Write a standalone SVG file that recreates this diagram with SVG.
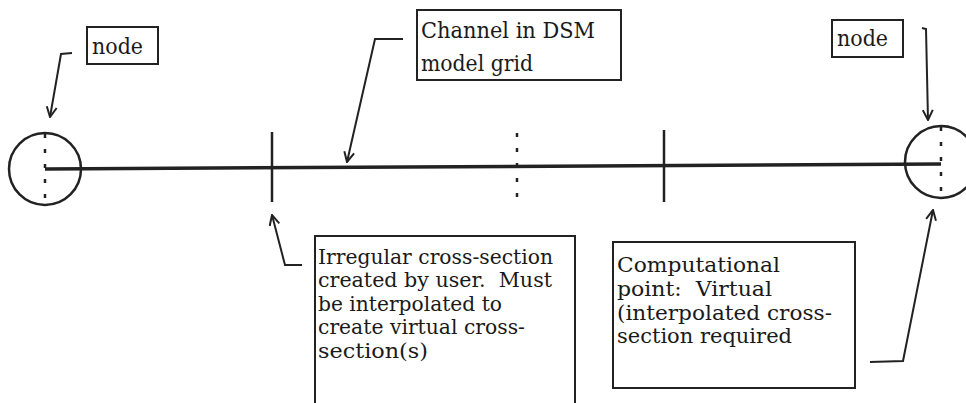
<svg xmlns="http://www.w3.org/2000/svg" width="966" height="403" viewBox="0 0 966 403">
<style>
.box{fill:#fff;stroke:#222;stroke-width:2}
text{fill:#1a1a1a}
.lbl{font-size:21px}
.nd{font-size:23px}
.ch{font-size:23px}
.lead{fill:none;stroke:#222;stroke-width:2;marker-end:url(#ah)}
.circ{fill:none;stroke:#222;stroke-width:2.5}
.dash{stroke:#222;stroke-width:2.5;stroke-dasharray:4 11}
.tick{stroke:#222;stroke-width:2.5}
</style>
<defs>
<marker id="ah" viewBox="0 0 12 12" refX="11" refY="6" markerWidth="12" markerHeight="12" markerUnits="userSpaceOnUse" orient="auto">
<path d="M1,1 L11,6 L1,11" fill="none" stroke="#222" stroke-width="2"/>
</marker>
</defs>
<rect width="966" height="403" fill="#fff"/>

<g id="channel-line">
<line x1="45" y1="169" x2="941" y2="164" stroke="#222" stroke-width="3.5"/>
</g>

<g id="node-left">
<circle class="circ" cx="45" cy="169" r="36"/>
<line class="dash" x1="45" y1="134" x2="45" y2="205"/>
</g>

<g id="node-right">
<circle class="circ" cx="941" cy="162" r="36"/>
<line class="dash" x1="941" y1="127" x2="941" y2="198"/>
</g>

<g id="xsec-user">
<line class="tick" x1="272" y1="132" x2="272" y2="202"/>
</g>

<g id="comp-point">
<line class="dash" x1="517" y1="133" x2="517" y2="200"/>
</g>

<g id="xsec-2">
<line class="tick" x1="664" y1="130" x2="664" y2="202"/>
</g>

<g id="label-node-left">
<rect class="box" x="87" y="27" width="71" height="37"/>
<text class="nd" x="92" y="54" font-family="DejaVu Serif, serif" textLength="51" lengthAdjust="spacingAndGlyphs">node</text>
</g>

<g id="label-node-right">
<rect class="box" x="832" y="20" width="71" height="37"/>
<text class="nd" x="837" y="46" font-family="DejaVu Serif, serif" textLength="51" lengthAdjust="spacingAndGlyphs">node</text>
</g>

<g id="label-channel">
<rect class="box" x="417" y="10" width="204" height="70"/>
<text class="ch" x="421" y="38" font-family="DejaVu Serif, serif" textLength="174" lengthAdjust="spacingAndGlyphs">Channel in DSM</text>
<text class="ch" x="421" y="71" font-family="DejaVu Serif, serif" textLength="112" lengthAdjust="spacingAndGlyphs">model grid</text>
</g>

<g id="label-irregular">
<rect class="box" x="315" y="236" width="260" height="180"/>
<text class="lbl" x="318" y="264" font-family="DejaVu Serif, serif" textLength="235" lengthAdjust="spacingAndGlyphs">Irregular cross-section</text>
<text class="lbl" x="318" y="287" font-family="DejaVu Serif, serif" textLength="234" lengthAdjust="spacingAndGlyphs" xml:space="preserve">created by user.  Must</text>
<text class="lbl" x="318" y="311" font-family="DejaVu Serif, serif" textLength="184" lengthAdjust="spacingAndGlyphs">be interpolated to</text>
<text class="lbl" x="318" y="334" font-family="DejaVu Serif, serif" textLength="207" lengthAdjust="spacingAndGlyphs">create virtual cross-</text>
<text class="lbl" x="318" y="358" font-family="DejaVu Serif, serif" textLength="110" lengthAdjust="spacingAndGlyphs">section(s)</text>
</g>

<g id="label-computational">
<rect class="box" x="613" y="242" width="242" height="146"/>
<text class="lbl" x="617" y="272" font-family="DejaVu Serif, serif" textLength="163" lengthAdjust="spacingAndGlyphs">Computational</text>
<text class="lbl" x="617" y="296" font-family="DejaVu Serif, serif" textLength="155" lengthAdjust="spacingAndGlyphs" xml:space="preserve">point:  Virtual</text>
<text class="lbl" x="617" y="320" font-family="DejaVu Serif, serif" textLength="215" lengthAdjust="spacingAndGlyphs">(interpolated cross-</text>
<text class="lbl" x="617" y="343" font-family="DejaVu Serif, serif" textLength="175" lengthAdjust="spacingAndGlyphs">section required</text>
</g>

<g id="connectors">
<path class="lead" d="M72,53 L61,54 L50,117"/>
<path class="lead" d="M403,39 L375,39 L347,162"/>
<path class="lead" d="M922,28 L926,29 L928,120"/>
<path class="lead" d="M302,265 L285,265 L272,215"/>
<path class="lead" d="M870,362 L903,361 L933,210"/>
</g>
</svg>
